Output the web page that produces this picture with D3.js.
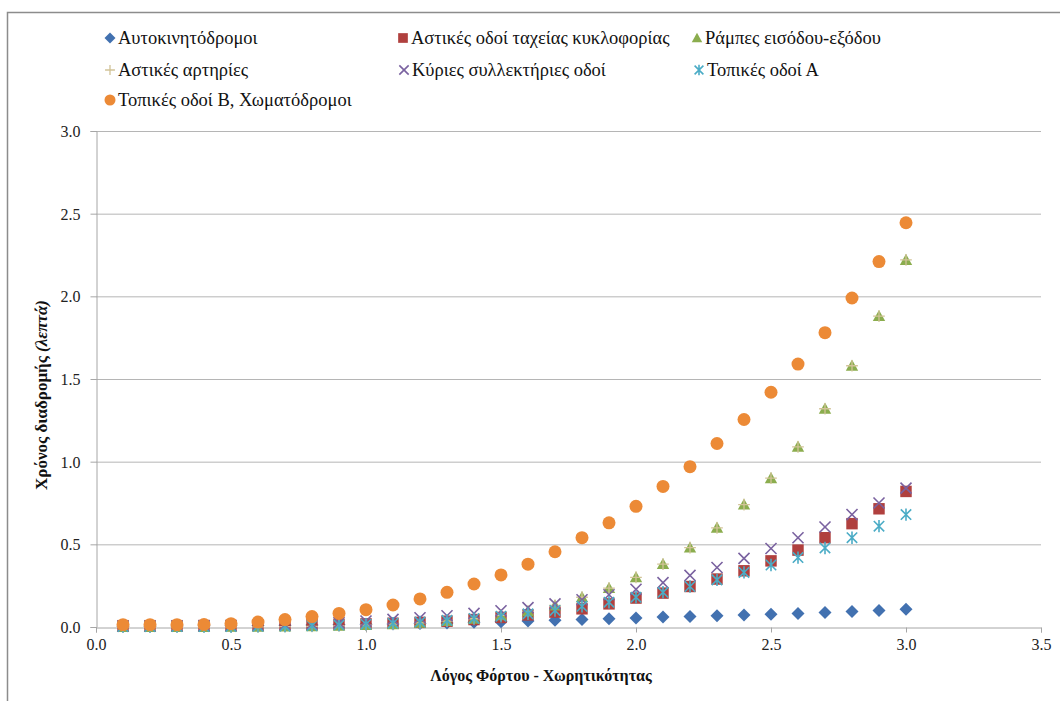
<!DOCTYPE html>
<html>
<head>
<meta charset="utf-8">
<script src="https://cdn.jsdelivr.net/npm/d3@7"></script>
<style>
  html, body { margin: 0; padding: 0; background: #fff; }
  svg { display: block; }
  svg text { font-family: "Liberation Serif", "Times New Roman", Times, "DejaVu Serif", "Noto Serif", Tinos, serif; }
</style>
</head>
<body>
<svg id="chart" width="1060" height="701"></svg>
<script>
// ---- Data ----
const loadRatio = [0.1,0.2,0.3,0.4,0.5,0.6,0.7,0.8,0.9,1.0,1.1,1.2,1.3,1.4,1.5,1.6,1.7,1.8,1.9,2.0,2.1,2.2,2.3,2.4,2.5,2.6,2.7,2.8,2.9,3.0];

const motorways   = [0.005,0.005,0.006,0.007,0.008,0.009,0.010,0.012,0.014,0.016,0.018,0.021,0.024,0.028,0.032,0.036,0.041,0.045,0.050,0.055,0.060,0.064,0.068,0.072,0.077,0.082,0.087,0.093,0.100,0.107];
const expressways = [0.008,0.008,0.008,0.009,0.009,0.010,0.011,0.013,0.016,0.019,0.023,0.028,0.035,0.045,0.058,0.073,0.090,0.110,0.140,0.175,0.205,0.245,0.290,0.340,0.400,0.465,0.540,0.625,0.715,0.820];
const ramps       = [0.000,0.000,0.000,0.000,0.001,0.001,0.002,0.004,0.007,0.011,0.017,0.025,0.036,0.050,0.070,0.095,0.130,0.180,0.235,0.300,0.380,0.480,0.600,0.740,0.900,1.090,1.320,1.580,1.880,2.220];
const arterials   = [0.000,0.000,0.000,0.000,0.001,0.001,0.002,0.004,0.007,0.011,0.017,0.025,0.036,0.050,0.070,0.095,0.130,0.180,0.235,0.300,0.380,0.480,0.600,0.740,0.900,1.090,1.320,1.580,1.880,2.220];
const collectors  = [0.005,0.005,0.006,0.007,0.008,0.010,0.013,0.018,0.026,0.036,0.046,0.056,0.068,0.082,0.098,0.117,0.140,0.165,0.195,0.228,0.268,0.312,0.360,0.415,0.475,0.540,0.605,0.680,0.750,0.840];
const localA      = [0.003,0.003,0.003,0.003,0.003,0.004,0.005,0.008,0.012,0.017,0.023,0.030,0.040,0.052,0.065,0.080,0.100,0.125,0.150,0.180,0.210,0.245,0.285,0.330,0.375,0.420,0.478,0.540,0.610,0.680];
const localB      = [0.014,0.014,0.014,0.015,0.020,0.030,0.045,0.063,0.082,0.105,0.133,0.170,0.210,0.260,0.315,0.380,0.455,0.540,0.630,0.730,0.850,0.970,1.110,1.255,1.420,1.590,1.780,1.990,2.210,2.445];

const seriesNames = ["Αυτοκινητόδρομοι","Αστικές οδοί ταχείας κυκλοφορίας","Ράμπες εισόδου-εξόδου","Αστικές αρτηρίες","Κύριες συλλεκτήριες οδοί","Τοπικές οδοί Α","Τοπικές οδοί Β, Χωματόδρομοι"];
const seriesValues = [motorways, expressways, ramps, arterials, collectors, localA, localB];
const xTicks = [0.0,0.5,1.0,1.5,2.0,2.5,3.0,3.5];
const yTicks = [0.0,0.5,1.0,1.5,2.0,2.5,3.0];
const xTitle = "Λόγος Φόρτου - Χωρητικότητας";
const yTitleMain = "Χρόνος διαδρομής ";
const yTitleUnit = "(λεπτά)";

// ---- Styles ----
const markers = ["diamond","square","triangle","plus","cross","asterisk","circle"];
const colors  = ["#4271B0","#B0403E","#8BAD4E","#D2C398","#7A62A0","#4BACC6","#EC8A36"];

const svg = d3.select("#chart");
const W = 1060, H = 701;

// frame
svg.append("rect").attr("x",7.5).attr("y",12.5).attr("width",W).attr("height",H)
  .attr("fill","none").attr("stroke","#8c8c8c").attr("stroke-width",1.5);

const x = d3.scaleLinear().domain([0,3.5]).range([96,1041]);
const y = d3.scaleLinear().domain([0,3.0]).range([627,131]);

// gridlines
svg.append("g").selectAll("line").data(yTicks.filter(d=>d>0)).join("line")
  .attr("x1",x(0)).attr("x2",x(3.5)).attr("y1",d=>y(d)+0.5).attr("y2",d=>y(d)+0.5)
  .attr("stroke","#b5b5b5").attr("stroke-width",1);

// axes
const yAxis = d3.axisLeft(y).tickValues(yTicks).tickFormat(d3.format(".1f")).tickSize(6).tickPadding(10);
const gy = svg.append("g").attr("transform",`translate(${x(0)+0.5},0)`).call(yAxis);
const xAxis = d3.axisBottom(x).tickValues(xTicks).tickFormat(d3.format(".1f")).tickSize(5).tickPadding(6);
const gx = svg.append("g").attr("transform",`translate(0,${y(0)+0.5})`).call(xAxis);
[gx, gy].forEach(g => {
  g.attr("font-family", null).attr("font-size", null);
  g.select(".domain").attr("stroke","#a6a6a6");
  g.selectAll(".tick line").attr("stroke","#a6a6a6");
  g.selectAll(".tick text").attr("fill","#222").style("font-size","16px");
});
gy.selectAll(".tick text").attr("dy","0.34em");

// axis titles
svg.append("text").attr("x",541).attr("y",681).attr("text-anchor","middle")
  .style("font-size","16px").style("font-weight","bold").attr("fill","#111").text(xTitle);
const yt = svg.append("text").attr("transform","translate(47,395) rotate(-90)").attr("text-anchor","middle")
  .style("font-size","17px").style("font-weight","bold").attr("fill","#111");
yt.append("tspan").text(yTitleMain);
yt.append("tspan").style("font-style","italic").text(yTitleUnit);

// marker drawing
function drawMarker(g, type, color, s) {
  const h = s/2;
  if (type === "diamond") {
    g.append("path").attr("d",`M0,${-h}L${h},0L0,${h}L${-h},0Z`).attr("fill",color);
  } else if (type === "square") {
    const q = h*0.88;
    g.append("rect").attr("x",-q).attr("y",-q).attr("width",2*q).attr("height",2*q).attr("fill",color);
  } else if (type === "triangle") {
    const t = h*0.95;
    g.append("path").attr("d",`M0,${-t}L${t},${t*0.8}L${-t},${t*0.8}Z`).attr("fill",color);
  } else if (type === "plus") {
    const p = h*0.9;
    g.append("path").attr("d",`M${-p},0L${p},0M0,${-p}L0,${p}`).attr("stroke",color).attr("stroke-width",1.3).attr("fill","none");
  } else if (type === "cross") {
    const c = h*0.85;
    g.append("path").attr("d",`M${-c},${-c}L${c},${c}M${-c},${c}L${c},${-c}`).attr("stroke",color).attr("stroke-width",1.6).attr("fill","none");
  } else if (type === "asterisk") {
    const a = h*0.8;
    g.append("path").attr("d",`M${-a},${-a}L${a},${a}M${-a},${a}L${a},${-a}M0,${-h*0.95}L0,${h*0.95}`).attr("stroke",color).attr("stroke-width",1.6).attr("fill","none");
  } else if (type === "circle") {
    g.append("circle").attr("r",h).attr("fill",color);
  }
}

// data points
seriesValues.forEach((vals, i) => {
  const g = svg.append("g").attr("class","series");
  vals.forEach((v, j) => {
    const m = g.append("g").attr("transform",`translate(${x(loadRatio[j])},${y(v)})`);
    drawMarker(m, markers[i], colors[i], 13);
  });
});

// legend
const legendPos = [[110,38],[403,38],[697,38],[110,70],[404,70],[699,70],[110,100]];
seriesNames.forEach((name, i) => {
  const [lx, ly] = legendPos[i];
  const m = svg.append("g").attr("transform",`translate(${lx},${ly})`);
  drawMarker(m, markers[i], colors[i], 11);
  svg.append("text").attr("x",lx+8).attr("y",ly).attr("dy","0.35em")
    .style("font-size","18.5px").attr("fill","#111").text(name);
});
</script>
</body>
</html>
